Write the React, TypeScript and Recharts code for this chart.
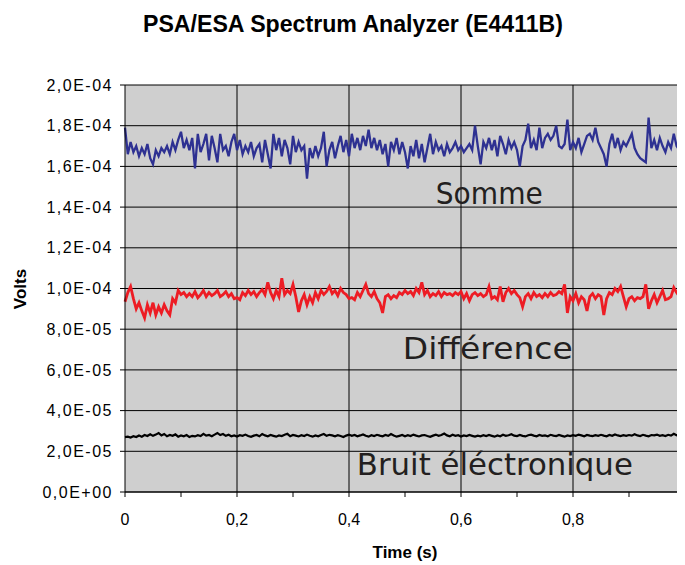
import React from 'react'
import {
  LineChart,
  Line,
  XAxis,
  YAxis,
  CartesianGrid,
  ReferenceDot,
  ReferenceLine,
} from 'recharts'

// Spectrum analyser trace, 200 samples over ~1 s. Values read off the
// picture, in units of 1e-5 V.
const SAMPLE_STEP = 0.005

const SOMME = [
  17.9, 16.6, 17.2, 16.7, 17.0, 16.5, 16.9, 16.6, 17.1, 16.4,
  16.1, 16.8, 16.5, 16.9, 16.7, 17.0, 16.6, 17.2, 16.8, 17.3,
  17.7, 16.9, 17.3, 16.8, 17.4, 15.9, 17.6, 16.7, 17.1, 17.6,
  16.3, 17.5, 16.9, 16.2, 17.6, 16.8, 17.0, 16.5, 17.2, 17.6,
  16.8, 17.3, 16.6, 17.0, 16.7, 17.2, 16.5, 16.9, 17.1, 16.2,
  17.3, 16.6, 15.9, 17.6, 16.8, 17.4, 16.5, 17.3, 16.9, 16.1,
  17.5, 16.7, 17.2, 16.8, 17.0, 15.4, 16.9, 16.4, 17.0, 16.5,
  16.9, 17.7, 16.0, 16.8, 17.2, 16.4, 17.0, 17.5, 16.7, 17.3,
  16.5, 17.6, 16.9, 17.4, 16.8, 17.5, 17.0, 17.8, 16.9, 17.4,
  16.8, 17.3, 16.6, 17.1, 16.0, 17.2, 16.8, 17.4, 16.6, 17.2,
  16.7, 15.9, 17.0, 16.5, 17.3, 16.4, 17.1, 16.2, 16.9, 17.6,
  16.6, 17.2, 16.8, 17.0, 16.5, 17.1, 16.7, 16.9, 17.2, 16.8,
  17.0, 16.7, 16.9, 17.1, 16.8, 18.0, 17.0, 16.1, 17.2, 16.9,
  17.4, 16.8, 17.3, 16.5, 17.5, 17.1, 16.6, 17.3, 16.9, 17.2,
  16.8, 16.0, 17.0, 17.3, 18.1, 16.9, 17.3, 16.8, 17.9, 16.9,
  17.4, 17.6, 17.3, 17.5, 18.0, 17.0, 16.9, 17.1, 18.3, 16.8,
  17.2, 16.9, 17.4, 16.7, 17.1, 17.5, 17.6, 17.3, 17.9, 17.2,
  16.9, 16.6, 16.0, 17.1, 17.6, 16.9, 17.4, 16.8, 17.2, 17.0,
  17.3, 17.6, 16.9, 16.6, 16.4, 16.3, 16.2, 18.4, 16.9, 17.3,
  16.8, 17.4, 17.0, 16.7, 17.2, 16.9, 17.6, 17.0, 16.8, 17.2,
]

const DIFFERENCE = [
  9.35, 9.8, 10.1, 9.5, 9.0, 9.3, 8.9, 8.55, 9.2, 8.8,
  9.3, 8.7, 9.1, 8.8, 9.2, 8.9, 8.7, 9.5, 9.3, 9.9,
  9.7, 9.8, 9.6, 9.75, 9.6, 9.85, 9.55, 9.7, 9.9, 9.6,
  9.8, 9.65, 9.75, 9.9, 9.6, 9.7, 9.85, 9.6, 9.75, 9.5,
  9.55, 9.45, 9.8, 9.65, 9.9, 9.7, 9.85, 9.6, 9.8, 9.95,
  9.7, 10.3, 9.8, 9.5, 9.9, 9.6, 10.5, 9.7, 9.9, 9.75,
  10.2, 9.6, 8.85, 9.4, 9.7, 9.2, 9.6, 9.3, 9.8, 9.5,
  9.9, 9.7, 9.85, 10.1, 9.75, 9.9, 9.65, 10.0, 9.8, 9.7,
  9.5, 9.55, 9.45, 9.8, 9.6, 9.9, 10.2, 9.75, 9.6, 9.85,
  9.5, 9.3, 8.8, 9.6, 9.7, 9.5, 9.65, 9.55, 9.8, 9.7,
  9.9, 9.75, 9.85, 9.65, 10.0, 9.8, 10.3, 9.7, 9.9, 9.6,
  9.75, 9.65, 9.85, 9.6, 9.8, 9.7, 9.75, 9.65, 9.8, 9.7,
  9.85, 9.5, 9.75, 9.4, 9.7, 9.8, 9.65, 9.75, 9.6, 9.7,
  10.1, 9.5, 9.6, 9.45, 10.1, 9.35, 9.8, 10.0, 9.75, 9.9,
  9.7, 9.55, 9.1, 9.6, 9.75, 9.5, 9.8, 9.6, 9.7, 9.55,
  9.75, 9.6, 9.8, 9.65, 9.7, 9.85, 9.75, 10.2, 8.8, 9.6,
  9.4, 9.75, 9.3, 9.6, 9.45, 8.9, 9.6, 9.75, 9.5, 9.7,
  9.6, 8.7, 9.5, 9.8, 9.7, 10.0, 9.85, 10.1, 9.6, 9.1,
  9.5, 9.6, 9.4, 9.55, 9.5, 9.6, 10.2, 9.0, 9.4, 9.7,
  9.3, 9.6, 9.9, 9.45, 9.5, 9.6, 10.05, 9.8, 9.6, 9.7,
]

const BRUIT = [
  2.70, 2.72, 2.68, 2.74, 2.70, 2.78, 2.72, 2.80, 2.75, 2.84,
  2.76, 2.82, 2.90, 2.78, 2.85, 2.74, 2.80, 2.76, 2.83, 2.72,
  2.78, 2.74, 2.80, 2.70, 2.76, 2.73, 2.79, 2.75, 2.86, 2.77,
  2.80, 2.74, 2.82, 2.90, 2.80, 2.85, 2.76, 2.81, 2.74, 2.78,
  2.73, 2.79, 2.76, 2.82, 2.75, 2.71, 2.77, 2.80, 2.74, 2.85,
  2.78, 2.74, 2.80, 2.76, 2.72, 2.78, 2.75, 2.81, 2.86, 2.74,
  2.80, 2.77, 2.73, 2.79, 2.75, 2.82, 2.76, 2.72, 2.78, 2.74,
  2.80, 2.85, 2.76, 2.81, 2.78, 2.74, 2.79, 2.75, 2.70, 2.77,
  2.82, 2.76, 2.80, 2.74, 2.78, 2.83, 2.76, 2.72, 2.79, 2.75,
  2.81, 2.77, 2.74, 2.80, 2.76, 2.85, 2.78, 2.72, 2.76, 2.80,
  2.74, 2.79, 2.75, 2.82, 2.77, 2.73, 2.78, 2.80, 2.75, 2.71,
  2.77, 2.82, 2.76, 2.80, 2.87, 2.78, 2.74, 2.81, 2.76, 2.79,
  2.73, 2.78, 2.75, 2.80, 2.76, 2.72, 2.77, 2.74, 2.79, 2.75,
  2.80, 2.76, 2.72, 2.78, 2.74, 2.81, 2.76, 2.79, 2.84, 2.77,
  2.75, 2.80, 2.76, 2.73, 2.79, 2.82, 2.77, 2.74, 2.80, 2.76,
  2.78, 2.74, 2.81, 2.77, 2.75, 2.80, 2.76, 2.72, 2.78, 2.75,
  2.79, 2.76, 2.82, 2.78, 2.74, 2.80, 2.77, 2.75, 2.79, 2.76,
  2.81, 2.77, 2.74, 2.80, 2.76, 2.83, 2.78, 2.75, 2.79, 2.76,
  2.80, 2.77, 2.84, 2.78, 2.75, 2.81, 2.77, 2.74, 2.80, 2.78,
  2.82, 2.76, 2.79, 2.75, 2.81, 2.77, 2.86, 2.79, 2.83, 2.80,
]

const X_TICKS = [0, 0.1, 0.2, 0.3, 0.4, 0.5, 0.6, 0.7, 0.8, 0.9]
const X_MAJOR = [0.2, 0.4, 0.6, 0.8]
const Y_TICKS = [0, 2e-5, 4e-5, 6e-5, 8e-5, 1e-4, 1.2e-4, 1.4e-4, 1.6e-4, 1.8e-4, 2e-4]

const DATA = SOMME.map((s, i) => ({
  t: Math.round(i * SAMPLE_STEP * 1000) / 1000,
  somme: s * 1e-5,
  difference: DIFFERENCE[i] * 1e-5,
  bruit: BRUIT[i] * 1e-5,
}))

const W = 677
const H = 557
const ARIAL = '"Liberation Sans", Arial, sans-serif'
const HAND = '"Comic Sans MS", "DejaVu Sans", sans-serif'

// Excel style: 2,0E-04
function sci(v: number) {
  if (v === 0) return '0,0E+00'
  const exp = Math.floor(Math.log10(Math.abs(v)) + 1e-9)
  const mant = (v / Math.pow(10, exp)).toFixed(1).replace('.', ',')
  const sign = exp < 0 ? '-' : '+'
  return `${mant}E${sign}${String(Math.abs(exp)).padStart(2, '0')}`
}

function xLabel(v: number) {
  const major = Math.abs(Math.round(v * 10) % 2) === 0
  if (!major) return ''
  return v === 0 ? '0' : String(v).replace('.', ',')
}

const note = (text: string, len: number) => (props: any) => {
  const vb = props.viewBox || {}
  return (
    <text
      x={vb.x}
      y={vb.y}
      fontFamily={HAND}
      fontSize={30}
      fill="#231f20"
      textLength={len}
      lengthAdjust="spacingAndGlyphs"
    >
      {text}
    </text>
  )
}

export default function App() {
  return (
    <div style={{ position: 'relative', width: W, height: H }}>
      <LineChart
        width={W}
        height={H}
        data={DATA}
        margin={{ top: 77, right: 0, left: 7, bottom: 33 }}
      >
        <CartesianGrid fill="#cfcfcf" stroke="#000" strokeOpacity={1} vertical={false} />
        {X_MAJOR.map((t) => (
          <ReferenceLine key={t} x={t} stroke="#000" strokeWidth={1} />
        ))}
        <XAxis
          dataKey="t"
          type="number"
          domain={[0, 1]}
          ticks={X_TICKS}
          interval={0}
          tickFormatter={xLabel}
          height={40}
          stroke="#000"
          tickSize={5}
          tickMargin={17}
          tick={{ fill: '#000', fontSize: 16, fontFamily: ARIAL }}
        />
        <YAxis
          type="number"
          domain={[0, 2e-4]}
          ticks={Y_TICKS}
          interval={0}
          tickFormatter={sci}
          width={110}
          stroke="#000"
          tickSize={5}
          tickMargin={7}
          tick={{ fill: '#000', fontSize: 16, fontFamily: ARIAL, letterSpacing: 1.5 }}
        />
        <Line
          type="linear"
          dataKey="somme"
          stroke="#2e3192"
          strokeWidth={2.3}
          dot={false}
          isAnimationActive={false}
        />
        <Line
          type="linear"
          dataKey="difference"
          stroke="#ed1c24"
          strokeWidth={2.8}
          dot={false}
          isAnimationActive={false}
        />
        <Line
          type="linear"
          dataKey="bruit"
          stroke="#000"
          strokeWidth={2.2}
          dot={false}
          isAnimationActive={false}
        />
        <ReferenceDot x={0.555} y={1.415e-4} r={0} fill="none" stroke="none" label={note('Somme', 107)} />
        <ReferenceDot x={0.496} y={6.52e-5} r={0} fill="none" stroke="none" label={note('Différence', 170)} />
        <ReferenceDot x={0.414} y={8.35e-6} r={0} fill="none" stroke="none" label={note('Bruit éléctronique', 276)} />
      </LineChart>
      <svg
        width={W}
        height={H}
        style={{ position: 'absolute', left: 0, top: 0, pointerEvents: 'none' }}
      >
        <text
          x={345}
          y={23.5}
          textAnchor="middle"
          fontFamily={ARIAL}
          fontWeight="bold"
          fontSize={24}
          textLength={420}
          lengthAdjust="spacingAndGlyphs"
        >
          PSA/ESA Spectrum Analyzer (E4411B)
        </text>
        <text
          x={12}
          y={281}
          transform="rotate(-90 12 281)"
          textAnchor="middle"
          dominantBaseline="central"
          fontFamily={ARIAL}
          fontWeight="bold"
          fontSize={17}
        >
          Volts
        </text>
        <text
          x={397}
          y={544}
          textAnchor="middle"
          dominantBaseline="central"
          fontFamily={ARIAL}
          fontWeight="bold"
          fontSize={17}
        >
          Time (s)
        </text>
      </svg>
    </div>
  )
}
